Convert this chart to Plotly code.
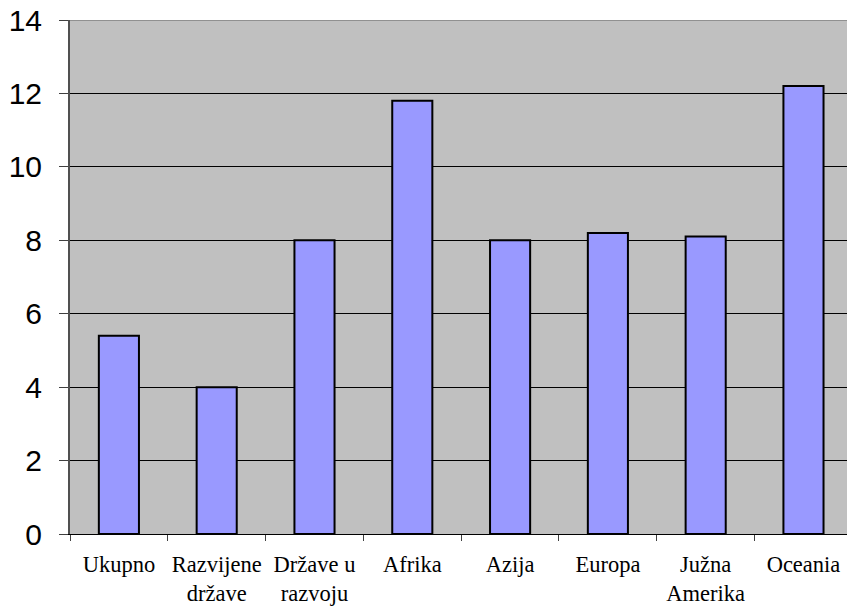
import plotly.graph_objects as go

categories = ["Ukupno", "Razvijene<br>države", "Države u<br>razvoju", "Afrika",
              "Azija", "Europa", "Južna<br>Amerika", "Oceania"]
values = [5.4, 4.0, 8.0, 11.8, 8.0, 8.2, 8.1, 12.2]
y_ticks = [0, 2, 4, 6, 8, 10, 12, 14]

x_pos = list(range(len(categories)))

fig = go.Figure()
fig.add_trace(go.Bar(
    x=x_pos, y=values, width=0.41,
    marker=dict(color="#9999FF", line=dict(color="black", width=2)),
    showlegend=False, hoverinfo="skip",
))

fig.update_layout(
    width=847, height=607,
    margin=dict(l=70, r=0, t=20, b=73, autoexpand=False),
    paper_bgcolor="white", plot_bgcolor="#C0C0C0",
    xaxis=dict(
        range=[-0.5, 7.445], tickmode="array", tickvals=x_pos, ticktext=categories,
        ticks="", showgrid=False, zeroline=False,
        showline=True, linecolor="black", linewidth=1,
        tickfont=dict(family="Liberation Serif", size=22.5, color="black"),
        ticklabelstandoff=10,
        minor=dict(ticks="outside", tick0=-0.5, dtick=1, ticklen=6, tickcolor="#404040", tickwidth=1, showgrid=False),
    ),
    yaxis=dict(
        range=[0, 14], tickmode="array", tickvals=y_ticks,
        ticks="outside", ticklen=9, tickcolor="#404040", tickwidth=1,
        showgrid=True, gridcolor="black", gridwidth=1,
        zeroline=False, showline=True, linecolor="#505050", linewidth=2,
        tickfont=dict(family="Liberation Sans", size=30, color="black"),
        ticklabelstandoff=11,
    ),
    shapes=[dict(type="line", xref="paper", yref="y", x0=0, x1=1, y0=14, y1=14,
                 line=dict(color="#909090", width=2), layer="above")],
)

fig.write_html("out.html")
